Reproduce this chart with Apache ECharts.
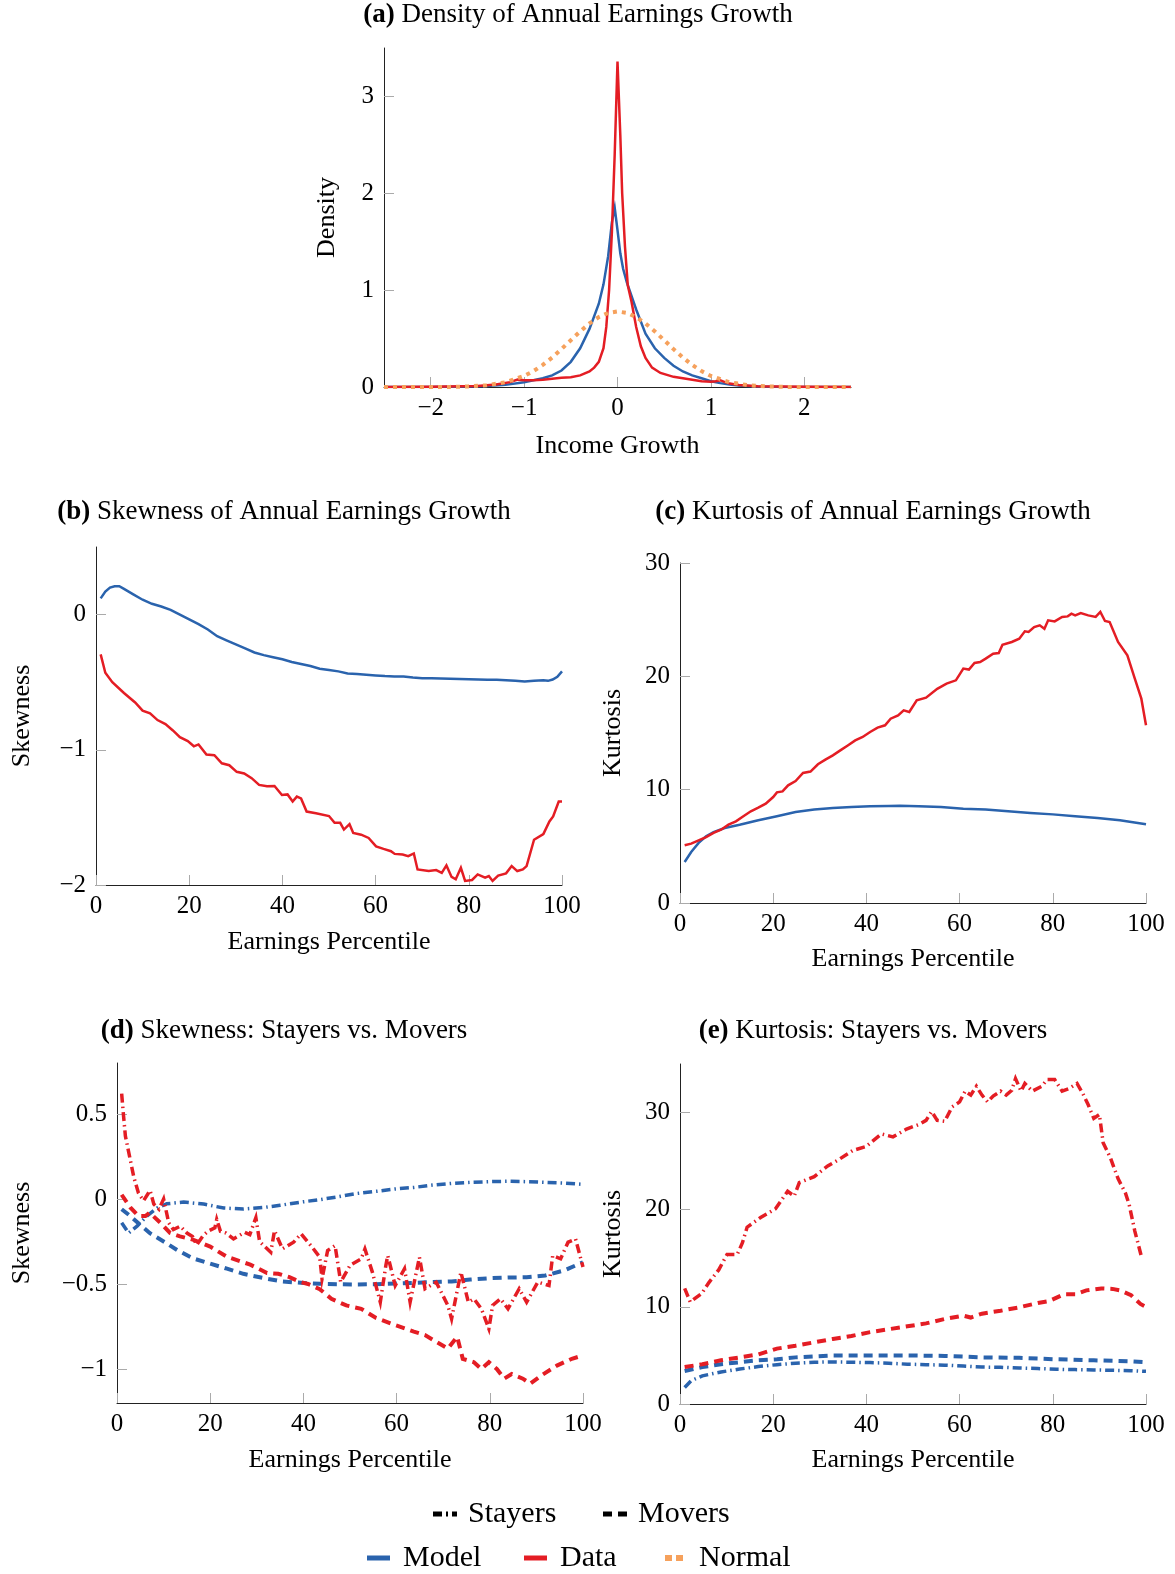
<!DOCTYPE html>
<html><head><meta charset="utf-8">
<script src="https://cdn.jsdelivr.net/npm/echarts@6/dist/echarts.min.js"></script>
<style>html,body{margin:0;padding:0;background:#fff}#c{width:1175px;height:1574px}</style>
</head><body><div id="c"></div>
<script>
// ---------- (a) density ----------
const densModelX = [-2.5,-2.0,-1.6,-1.4,-1.2,-1.0,-0.9,-0.8,-0.7,-0.6,-0.5,-0.4,-0.3,-0.2,-0.15,-0.1,-0.06,-0.03,0,0.03,0.06,0.1,0.15,0.2,0.3,0.4,0.5,0.6,0.7,0.8,0.9,1.0,1.1,1.2,1.3,1.5,1.8,2.5];
const densModelY = [0,0.001,0.004,0.01,0.022,0.05,0.07,0.09,0.12,0.17,0.26,0.4,0.6,0.86,1.06,1.35,1.7,1.85,1.62,1.38,1.22,1.08,0.94,0.8,0.55,0.4,0.3,0.22,0.16,0.12,0.09,0.06,0.04,0.025,0.015,0.005,0.001,0];
const densDataX = [-2.5,-2.0,-1.5,-1.3,-1.15,-1.07,-1.0,-0.9,-0.8,-0.7,-0.6,-0.5,-0.4,-0.3,-0.25,-0.2,-0.15,-0.12,-0.09,-0.06,-0.03,0,0.03,0.05,0.08,0.11,0.15,0.2,0.25,0.3,0.37,0.46,0.6,0.7,0.8,0.9,1.0,1.05,1.1,1.15,1.2,1.3,1.5,2.0,2.5];
const densDataY = [0,0.002,0.01,0.025,0.05,0.076,0.07,0.07,0.075,0.085,0.095,0.1,0.12,0.16,0.2,0.26,0.4,0.62,1.0,1.6,2.4,3.36,2.6,2.0,1.45,1.05,0.88,0.62,0.42,0.3,0.2,0.145,0.105,0.09,0.075,0.06,0.055,0.06,0.07,0.05,0.035,0.02,0.008,0.002,0];
const densNormX = [-2.5,-2.0,-1.8,-1.6,-1.4,-1.2,-1.0,-0.9,-0.8,-0.7,-0.6,-0.5,-0.4,-0.3,-0.2,-0.1,0,0.1,0.2,0.3,0.4,0.5,0.6,0.7,0.8,0.9,1.0,1.2,1.4,1.6,1.8,2.0,2.5];
const densNormY = [0,0,0.001,0.006,0.018,0.049,0.114,0.164,0.228,0.304,0.391,0.483,0.574,0.656,0.722,0.765,0.78,0.765,0.722,0.656,0.574,0.483,0.391,0.304,0.228,0.164,0.114,0.049,0.018,0.006,0.001,0,0];

// ---------- (b) skewness ----------
const skewModelX = [1,2,3,4,5,6,8,10,12,14,16,18,20,22,24,26,28,30,32,34,36,38,40,42,44,46,48,50,52,54,56,58,60,62,64,66,68,70,72,74,76,78,80,82,84,86,88,90,92,94,96,97,98,99,100];
const skewModelY = [0.12,0.17,0.2,0.21,0.21,0.19,0.15,0.11,0.08,0.06,0.035,0.0,-0.035,-0.07,-0.11,-0.16,-0.19,-0.22,-0.25,-0.28,-0.3,-0.315,-0.33,-0.35,-0.365,-0.38,-0.4,-0.41,-0.42,-0.435,-0.44,-0.445,-0.45,-0.455,-0.457,-0.458,-0.465,-0.47,-0.47,-0.472,-0.475,-0.477,-0.478,-0.48,-0.482,-0.482,-0.485,-0.49,-0.495,-0.49,-0.485,-0.49,-0.48,-0.46,-0.42];
const skewDataX = [1,2,3.5,6,8.4,10,11.6,13.2,14.9,16.5,18,19.7,21,22,23.7,25.4,27,28.6,30.2,31.8,33.4,35,36.7,38.3,39.9,41.1,42.2,43.1,44,45.2,47.2,50,51.2,52.4,53.2,54.4,55.2,56.9,58.5,60.1,61.7,63.3,64.1,65.8,67,68.2,69,71.4,73,74.2,75.2,76.3,77.2,78.3,79.2,80.7,81.9,83.5,84.3,85.1,86.3,88,89.2,90.4,91.6,92.4,94,96,97.3,98.1,99.3,100];
const skewDataY = [-0.294,-0.43,-0.5,-0.58,-0.65,-0.71,-0.73,-0.78,-0.81,-0.857,-0.906,-0.935,-0.974,-0.96,-1.035,-1.04,-1.1,-1.114,-1.163,-1.175,-1.21,-1.26,-1.27,-1.268,-1.334,-1.33,-1.383,-1.346,-1.36,-1.457,-1.47,-1.49,-1.54,-1.54,-1.59,-1.55,-1.615,-1.628,-1.652,-1.714,-1.733,-1.75,-1.77,-1.775,-1.787,-1.767,-1.885,-1.897,-1.89,-1.91,-1.855,-1.94,-1.958,-1.873,-1.97,-1.963,-1.922,-1.946,-1.934,-1.97,-1.93,-1.914,-1.86,-1.897,-1.885,-1.86,-1.665,-1.623,-1.53,-1.493,-1.383,-1.383];

// ---------- (c) kurtosis ----------
const kurtModelX = [1,2.4,4,5.6,7.2,9.6,12.8,16.8,20.8,24.8,28.8,32.8,36.8,40.8,44.8,47.2,51.2,56,60.8,65.6,70.4,75.2,80,84.8,89.6,94.4,100];
const kurtModelY = [3.62,4.5,5.3,5.88,6.26,6.62,6.9,7.3,7.65,8.03,8.24,8.38,8.47,8.53,8.56,8.59,8.53,8.47,8.32,8.24,8.09,7.94,7.82,7.65,7.5,7.3,6.94];
const kurtDataX = [1,2.4,4,5.6,7.2,8.8,10.4,12,13.6,15.2,16.8,18.4,20,20.8,22,23.2,24.8,26.4,28,29.6,31.2,32.8,34.4,36,37.6,39.2,40.8,42.4,44,45.2,46.8,48,49.2,50.8,52.8,55.2,57.2,59.2,60.8,62,63.2,64.4,65.6,67.2,68.4,69.2,71.2,72.8,74,74.8,76,77.2,78.2,79,80.4,82,83.2,84,84.8,86,87.6,89.2,90.2,91.2,92.2,94,96,97.6,99,100];
const kurtDataY = [5.09,5.24,5.53,5.82,6.18,6.47,6.91,7.2,7.65,8.09,8.41,8.76,9.35,9.76,9.85,10.38,10.76,11.47,11.6,12.24,12.65,13.03,13.47,13.9,14.35,14.65,15.09,15.47,15.68,16.26,16.56,17,16.85,17.88,18.12,18.9,19.35,19.65,20.68,20.6,21.18,21.26,21.56,22,22.06,22.79,23.03,23.32,23.97,23.91,24.35,24.5,24.2,24.94,24.85,25.24,25.29,25.53,25.38,25.59,25.38,25.24,25.68,24.88,24.79,23.03,21.85,19.79,18.03,15.68];

// ---------- (d) skewness: stayers vs movers ----------
const dSkewModelStayX = [1,2.5,4.3,6.4,8.6,10.7,14.3,18.6,22.9,27.1,31.4,35,39.5,43.5,47.6,51.6,55.6,59.7,63.7,67.7,71.8,75.8,79.8,83.9,87.9,91.9,96,100];
const dSkewModelStayY = [-0.14,-0.2,-0.16,-0.1,-0.053,-0.028,-0.018,-0.03,-0.053,-0.059,-0.05,-0.037,-0.018,-0.004,0.014,0.033,0.045,0.059,0.068,0.082,0.092,0.098,0.102,0.104,0.102,0.098,0.094,0.086];
const dSkewModelMoveX = [1,2.85,4.9,7,10,12.9,16.4,20,23.6,27.1,31.4,35.5,39.5,43.5,47.6,51.6,55.6,59.7,63.7,67.7,71.8,75.8,79.8,83.9,87.9,91.9,96,100];
const dSkewModelMoveY = [-0.06,-0.1,-0.15,-0.2,-0.25,-0.3,-0.35,-0.38,-0.41,-0.44,-0.465,-0.485,-0.493,-0.499,-0.501,-0.503,-0.501,-0.497,-0.493,-0.489,-0.485,-0.474,-0.466,-0.462,-0.46,-0.45,-0.42,-0.372];
const dSkewDataStayX = [1,1.4,1.8,2.7,3.6,4.6,5.7,7.1,7.9,9,10,11.1,12.1,13.6,15,16.2,17.1,18.5,19.5,21,21.4,22.2,23.4,25,27.4,28.5,29.8,30.6,33,33.8,35.5,37.9,39.5,41.9,43.5,44,45.2,46.8,48,50,52.4,53.2,54.8,56.5,57.7,58.1,59.7,61.7,62.9,64.9,66.1,68.5,71,71.8,73.8,75.4,76.6,78.2,79.8,80.6,82.3,83.9,86.3,87.9,90.3,92.7,93.5,95.2,96.8,98.4,100];
const dSkewDataStayY = [0.62,0.49,0.37,0.25,0.13,0.035,-0.01,0.05,-0.03,-0.06,0.0,-0.14,-0.18,-0.16,-0.2,-0.22,-0.27,-0.215,-0.19,-0.17,-0.12,-0.19,-0.2,-0.235,-0.196,-0.21,-0.11,-0.25,-0.313,-0.186,-0.293,-0.254,-0.205,-0.284,-0.342,-0.47,-0.303,-0.274,-0.489,-0.39,-0.352,-0.294,-0.43,-0.607,-0.39,-0.333,-0.509,-0.41,-0.607,-0.342,-0.528,-0.489,-0.626,-0.705,-0.43,-0.607,-0.587,-0.646,-0.763,-0.626,-0.587,-0.646,-0.528,-0.607,-0.489,-0.509,-0.333,-0.352,-0.254,-0.235,-0.4];
const dSkewDataMoveX = [1,2.85,4.6,6.1,7,9.3,11.4,13.5,16.4,20,23.6,28.6,32.2,34.6,37,39.5,41,43.5,46,49.2,52.4,55.6,58.9,62,63.7,66.1,68.5,71,73,74.2,76.6,78.2,79.8,81.5,83.1,84.7,87.1,88.7,91.1,94.4,97.6,100];
const dSkewDataMoveY = [0.025,-0.05,-0.1,-0.1,-0.08,-0.14,-0.2,-0.22,-0.24,-0.28,-0.34,-0.386,-0.435,-0.44,-0.46,-0.49,-0.5,-0.53,-0.587,-0.626,-0.646,-0.7,-0.734,-0.763,-0.78,-0.8,-0.84,-0.88,-0.81,-0.94,-0.96,-1.0,-0.96,-1.0,-1.057,-1.03,-1.057,-1.086,-1.037,-0.98,-0.94,-0.92];

// ---------- (e) kurtosis: stayers vs movers ----------
const eKurtModelStayX = [1,2.4,4.8,8.8,12.8,16.8,20.8,24.8,28.8,32.8,36.8,40.8,44.8,48.8,52.8,56.8,60.8,64.8,68.8,72.8,76.8,80.8,84.8,88.8,92.8,96.8,100];
const eKurtModelStayY = [1.7,2.4,2.9,3.3,3.6,3.85,4.05,4.2,4.3,4.33,4.3,4.26,4.2,4.1,4.05,4.0,3.9,3.8,3.78,3.7,3.65,3.57,3.54,3.5,3.47,3.43,3.36];
const eKurtModelMoveX = [1,4.8,8.8,12.8,16.8,20.8,24.8,28.8,32.8,40.8,48.8,56.8,64.8,72.8,80.8,88.8,96.8,100];
const eKurtModelMoveY = [3.4,3.8,4.1,4.3,4.5,4.6,4.8,4.9,5.0,5.0,5.0,4.95,4.8,4.75,4.6,4.5,4.4,4.3];
const eKurtDataStayX = [1,2.2,4.7,6.2,8.3,10.1,12.3,13.4,14.4,17.3,20.5,23.1,24.5,25.6,28.8,31.7,34.2,37.1,39.9,43.2,45.7,48.6,51.4,52.8,54,55.2,56.8,58.4,60,61.2,62.4,63.6,64.8,66,67.2,68.8,70,71.2,72,73.2,74,75.6,77.6,78.8,80.4,82,83.6,85.2,86.4,87.6,88.8,90,90.8,92.4,94,95.6,96.4,97.6,99];
const eKurtDataStayY = [11.9,10.5,11.4,12.5,13.8,15.4,15.4,16.6,18.2,19.2,20.1,21.9,21.4,22.8,23.4,24.5,25.2,26.1,26.5,27.8,27.5,28.3,28.8,29.2,30.1,29.2,29.1,30.6,31.1,32.2,31.8,32.7,31.8,31.1,31.7,32.2,31.8,32.3,33.5,32.2,33.0,32.2,32.7,33.4,33.4,32.2,32.5,33.0,32.0,30.8,29.4,29.8,26.9,25.3,23.2,21.7,20.5,17.8,15.2];
const eKurtDataMoveX = [1,4.8,8.8,12.8,16.8,20.8,24.8,28.8,32.8,36.8,40.8,44.8,48.8,52.8,56.8,60.8,62.4,64.8,68.8,72.8,76.8,79.2,82.4,84.8,87.2,90.4,92.8,94.4,96.8,98.8,100];
const eKurtDataMoveY = [3.8,4.1,4.5,4.8,5.1,5.7,6.0,6.35,6.7,7.0,7.4,7.7,8.0,8.3,8.75,9.1,8.9,9.3,9.6,9.95,10.4,10.6,11.3,11.3,11.7,11.9,11.85,11.7,11.2,10.3,10.0];

// ---------- tick values ----------
const ticksA_X = [-2,-1,0,1,2];
const ticksA_Y = [0,1,2,3];
const ticksB_Y = [-2,-1,0];
const ticksPct = [0,20,40,60,80,100];
const ticksC_Y = [0,10,20,30];
const ticksD_Y = [-1,-0.5,0,0.5];
const ticksE_Y = [0,10,20,30];

// ---------- styles ----------
const FONT = "'Liberation Serif','DejaVu Serif',serif";
const BLUE = '#2a63ad', RED = '#e41d24', ORANGE = '#f6a15c';
const DASH = [9,6], DASHDOT = [9,4,1.5,4], DOTTED = [4,5];

const fmt = v => (v < 0 ? '\u2212' + Math.abs(v) : String(v));
const pairs = (xs, ys) => xs.map((x, i) => [x, ys[i]]);

function xAxis(g, min, max, ticks, name, gap) {
  return {
    type: 'value', gridIndex: g, min, max, name, nameLocation: 'middle', nameGap: gap,
    nameTextStyle: {fontFamily: FONT, fontSize: 26, color: '#000'},
    axisLine: {show: true, onZero: false, lineStyle: {color: '#222', width: 1}},
    axisTick: {show: true, inside: true, length: 10, customValues: ticks, lineStyle: {color: '#aaa', width: 1}},
    axisLabel: {customValues: ticks, formatter: fmt, fontFamily: FONT, fontSize: 25, color: '#000', margin: 9},
    splitLine: {show: false}
  };
}
function yAxis(g, min, max, ticks, name, gap) {
  return {
    type: 'value', gridIndex: g, min, max, name, nameLocation: 'middle', nameGap: gap, nameRotate: 90,
    nameTextStyle: {fontFamily: FONT, fontSize: 26, color: '#000'},
    axisLine: {show: true, onZero: false, lineStyle: {color: '#222', width: 1}},
    axisTick: {show: true, inside: true, length: 10, customValues: ticks, lineStyle: {color: '#aaa', width: 1}},
    axisLabel: {customValues: ticks, formatter: fmt, fontFamily: FONT, fontSize: 25, color: '#000', margin: 10},
    splitLine: {show: false}
  };
}
function line(g, xs, ys, color, width, type, z) {
  return {
    type: 'line', xAxisIndex: g, yAxisIndex: g, data: pairs(xs, ys), showSymbol: false, symbol: 'none',
    clip: true, z: z || 2,
    lineStyle: {color, width, type: type || 'solid', cap: 'butt', join: 'miter'},
    emphasis: {disabled: true}
  };
}
function title(x, y, tag, text) {
  return {
    type: 'text', x, y, silent: true,
    style: {
      text: '{b|' + tag + '} ' + text,
      fontFamily: FONT, fontSize: 27, fill: '#000',
      align: 'center', verticalAlign: 'middle', textAlign: 'center', textVerticalAlign: 'middle',
      rich: {b: {fontFamily: FONT, fontSize: 27, fontWeight: 'bold', fill: '#000'}}
    }
  };
}
function legText(x, y, t) {
  return {type: 'text', x, y, silent: true,
    style: {text: t, fontFamily: FONT, fontSize: 30, fill: '#000', align: 'left', verticalAlign: 'middle', textAlign: 'left', textVerticalAlign: 'middle'}};
}
function legLine(x1, x2, y, color, w, dash) {
  return {type: 'line', silent: true, shape: {x1, y1: y, x2, y2: y},
    style: {stroke: color, lineWidth: w, lineDash: dash || null, lineCap: 'butt'}};
}

const chart = echarts.init(document.getElementById('c'), null, {renderer: 'canvas'});
chart.setOption({
  animation: false,
  backgroundColor: '#fff',
  grid: [
    {left: 384, top: 48, width: 467, height: 339},
    {left: 96, top: 547, width: 466, height: 338},
    {left: 680, top: 563, width: 466, height: 340},
    {left: 117, top: 1063, width: 466, height: 340},
    {left: 680, top: 1064, width: 466, height: 340}
  ],
  xAxis: [
    xAxis(0, -2.5, 2.5, ticksA_X, 'Income Growth', 46),
    xAxis(1, 0, 100, ticksPct, 'Earnings Percentile', 44),
    xAxis(2, 0, 100, ticksPct, 'Earnings Percentile', 43),
    xAxis(3, 0, 100, ticksPct, 'Earnings Percentile', 44),
    xAxis(4, 0, 100, ticksPct, 'Earnings Percentile', 43)
  ],
  yAxis: [
    yAxis(0, 0, 3.5, ticksA_Y, 'Density', 44),
    yAxis(1, -2, 0.5, ticksB_Y, 'Skewness', 61),
    yAxis(2, 0, 30, ticksC_Y, 'Kurtosis', 54),
    yAxis(3, -1.2, 0.8, ticksD_Y, 'Skewness', 82),
    yAxis(4, 0, 35, ticksE_Y, 'Kurtosis', 54)
  ],
  series: [
    line(0, densModelX, densModelY, BLUE, 2.5),
    line(0, densDataX, densDataY, RED, 2.5),
    line(0, densNormX, densNormY, ORANGE, 4, DOTTED, 3),
    line(1, skewModelX, skewModelY, BLUE, 2.5),
    line(1, skewDataX, skewDataY, RED, 2.5),
    line(2, kurtModelX, kurtModelY, BLUE, 2.5),
    line(2, kurtDataX, kurtDataY, RED, 2.5),
    line(3, dSkewModelStayX, dSkewModelStayY, BLUE, 3.5, DASHDOT),
    line(3, dSkewModelMoveX, dSkewModelMoveY, BLUE, 4, DASH),
    line(3, dSkewDataStayX, dSkewDataStayY, RED, 3.5, DASHDOT, 3),
    line(3, dSkewDataMoveX, dSkewDataMoveY, RED, 4, DASH, 3),
    line(4, eKurtModelStayX, eKurtModelStayY, BLUE, 3.5, DASHDOT),
    line(4, eKurtModelMoveX, eKurtModelMoveY, BLUE, 4, DASH),
    line(4, eKurtDataStayX, eKurtDataStayY, RED, 3.5, DASHDOT, 3),
    line(4, eKurtDataMoveX, eKurtDataMoveY, RED, 4, DASH, 3)
  ],
  graphic: [
    title(578, 15, '(a)', 'Density of Annual Earnings Growth'),
    title(284, 512, '(b)', 'Skewness of Annual Earnings Growth'),
    title(873, 512, '(c)', 'Kurtosis of Annual Earnings Growth'),
    title(284, 1031, '(d)', 'Skewness: Stayers vs. Movers'),
    title(873, 1031, '(e)', 'Kurtosis: Stayers vs. Movers'),
    legLine(433, 457, 1514, '#000', 5, [9,4,2,4]),
    legText(468, 1514, 'Stayers'),
    legLine(603, 627, 1514, '#000', 5, [9,6]),
    legText(638, 1514, 'Movers'),
    legLine(367, 390, 1558, BLUE, 5),
    legText(403, 1558, 'Model'),
    legLine(524, 547, 1558, RED, 5),
    legText(560, 1558, 'Data'),
    legLine(665, 684, 1558, ORANGE, 6, [7,4]),
    legText(699, 1558, 'Normal')
  ]
});
</script></body></html>
